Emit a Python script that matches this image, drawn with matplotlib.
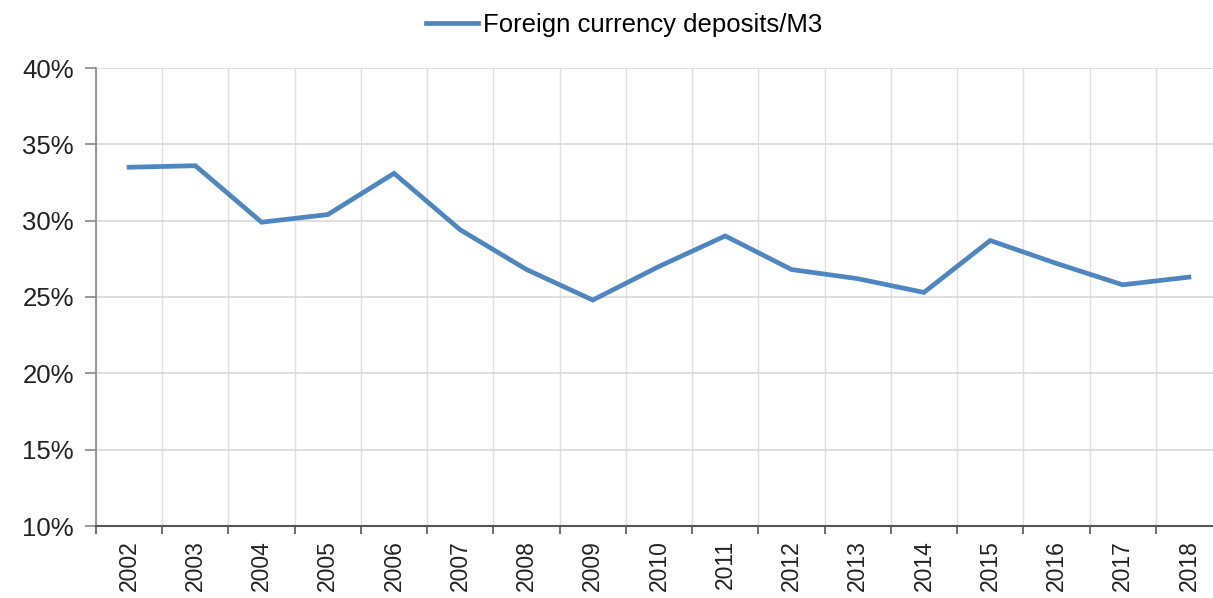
import matplotlib.pyplot as plt
import numpy as np
from matplotlib.ticker import FuncFormatter, MultipleLocator

plt.rcParams['font.family'] = ['Liberation Sans', 'DejaVu Sans']

years = ['2002', '2003', '2004', '2005', '2006', '2007', '2008', '2009', '2010',
         '2011', '2012', '2013', '2014', '2015', '2016', '2017', '2018']
fx_share = [33.5, 33.6, 29.9, 30.4, 33.1, 29.4, 26.8, 24.8, 27.0,
            29.0, 26.8, 26.2, 25.3, 28.7, 27.2, 25.8, 26.3]

fig = plt.figure(figsize=(12.13, 5.98), dpi=100)
ax = fig.add_axes([96 / 1213, 1 - 526 / 598, (1222 - 96) / 1213, (526 - 68) / 598])

x = np.arange(len(years))
ax.plot(x, fx_share, color='#4f86c0', lw=3.4, solid_joinstyle='miter',
        label='Foreign currency deposits/M3')

ax.set_xlim(-0.5, len(years) - 0.5)
ax.set_ylim(10, 40)
ax.yaxis.set_major_locator(MultipleLocator(5))
ax.yaxis.set_major_formatter(FuncFormatter(lambda v, _: f'{v:.0f}%'))

# year labels sit in the middle of each band, ticks/grid on band edges
ax.set_xticks(x)
ax.set_xticklabels(years, rotation=90, fontsize=16.5, color='#222222')
ax.set_xticks(np.arange(-0.5, len(years)), minor=True)
ax.tick_params(axis='x', which='major', length=0, pad=10)
ax.tick_params(axis='x', which='minor', length=6, width=1.2, color='#555555')
ax.tick_params(axis='y', length=8, width=1.2, color='#888888', labelsize=18.5,
               labelcolor='#222222', pad=8)

ax.grid(axis='y', which='major', color='#d9d9d9', lw=1.2)
ax.grid(axis='x', which='minor', color='#e0e0e0', lw=1.0)
ax.set_axisbelow(True)

for side in ['top', 'right']:
    ax.spines[side].set_visible(False)
ax.spines['left'].set_color('#888888')
ax.spines['left'].set_linewidth(1.2)
ax.spines['bottom'].set_color('#555555')
ax.spines['bottom'].set_linewidth(1.5)

fig.legend(loc='center', bbox_to_anchor=(624 / 1213, 1 - 25 / 598), frameon=False,
           fontsize=18.5, handlelength=2.0, handletextpad=0.2)

fig.savefig('out.png', dpi=100)
